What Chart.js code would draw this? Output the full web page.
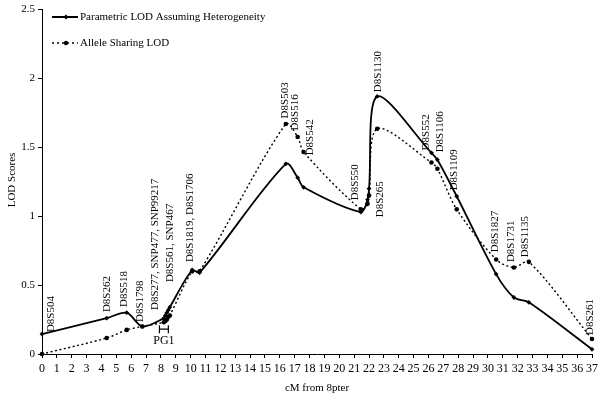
<!DOCTYPE html>
<html>
<head>
<meta charset="utf-8">
<script src="https://cdn.jsdelivr.net/npm/chart.js@4"></script>
<style>
  html, body { margin: 0; padding: 0; background: #fff; }
  #wrap { width: 602px; height: 400px; }
</style>
</head>
<body>
<div id="wrap"><canvas id="lod" width="602" height="400"></canvas></div>
<script>
// marker positions in cM from 8pter
const positions = [0, 4.35, 5.7, 6.75, 8.2, 8.3, 8.4, 8.5, 8.6, 10.1, 10.6, 16.4, 17.2, 17.6,
  21.45, 21.9, 22.0, 22.55, 26.2, 26.6, 27.9, 30.55, 31.75, 32.75, 37];
const parametricLod = [0.145, 0.26, 0.30, 0.20, 0.26, 0.28, 0.30, 0.32, 0.34, 0.61, 0.59, 1.38, 1.28, 1.21,
  1.03, 1.12, 1.20, 1.87, 1.46, 1.41, 1.145, 0.58, 0.41, 0.375, 0.034];
const sharingLod = [0, 0.116, 0.175, 0.20, 0.23, 0.24, 0.25, 0.27, 0.28, 0.60, 0.60, 1.67, 1.575, 1.466,
  1.05, 1.09, 1.15, 1.635, 1.39, 1.345, 1.05, 0.686, 0.628, 0.669, 0.109];

// marker name labels: [text, cM, LOD at bottom of the rotated text]
const markerLabels = [
  ['D8S504', 0.6, 0.159],
  ['D8S262', 4.36, 0.304],
  ['D8S518', 5.5, 0.341],
  ['D8S1798', 6.57, 0.232],
  ['D8S277, SNP477, SNP99217', 7.64, 0.319],
  ['D8S561, SNP467', 8.65, 0.522],
  ['D8S1819, D8S1706', 9.99, 0.667],
  ['D8S503', 16.35, 1.71],
  ['D8S516', 17.02, 1.623],
  ['D8S542', 18.03, 1.442],
  ['D8S550', 21.05, 1.116],
  ['D8S265', 22.72, 0.993],
  ['D8S1130', 22.59, 1.90],
  ['D8S552', 25.87, 1.478],
  ['D8S1106', 26.81, 1.464],
  ['D8S1109', 27.75, 1.188],
  ['D8S1827', 30.5, 0.739],
  ['D8S1731', 31.57, 0.667],
  ['D8S1135', 32.51, 0.703],
  ['D8S261', 36.86, 0.138]
];
const pg1 = { from: 7.9, to: 8.5, lod: 0.18, text: 'PG1' };

const seriesNames = ['Parametric LOD Assuming Heterogeneity', 'Allele Sharing LOD'];
const serif = "'Liberation Serif', 'Times New Roman', serif";

const annotations = {
  id: 'annotations',
  afterDatasetsDraw(chart) {
    const ctx = chart.ctx;
    const xs = chart.scales.x, ys = chart.scales.y;
    ctx.save();
    ctx.fillStyle = '#000';
    ctx.strokeStyle = '#000';
    ctx.font = '11px ' + serif;

    // rotated marker names
    markerLabels.forEach(([txt, cm, lod]) => {
      ctx.save();
      ctx.translate(xs.getPixelForValue(cm), ys.getPixelForValue(lod));
      ctx.rotate(-Math.PI / 2);
      ctx.textAlign = 'left';
      ctx.textBaseline = 'middle';
      ctx.fillText(txt, 0, 0);
      ctx.restore();
    });

    // PG1 interval bar
    const x1 = xs.getPixelForValue(pg1.from), x2 = xs.getPixelForValue(pg1.to);
    const yb = ys.getPixelForValue(pg1.lod);
    ctx.lineWidth = 1.2;
    ctx.beginPath();
    ctx.moveTo(x1, yb); ctx.lineTo(x2, yb);
    ctx.moveTo(x1, yb - 4); ctx.lineTo(x1, yb + 4);
    ctx.moveTo(x2, yb - 4); ctx.lineTo(x2, yb + 4);
    ctx.stroke();
    ctx.font = '12px ' + serif;
    ctx.textAlign = 'center';
    ctx.textBaseline = 'middle';
    ctx.fillText(pg1.text, (x1 + x2) / 2, yb + 12);

    // axis titles
    ctx.font = '11px ' + serif;
    ctx.fillText('cM from 8pter', (chart.chartArea.left + chart.chartArea.right) / 2, 388);
    ctx.save();
    ctx.translate(12, 180);
    ctx.rotate(-Math.PI / 2);
    ctx.fillText('LOD Scores', 0, 0);
    ctx.restore();

    // legend
    ctx.font = '11px ' + serif;
    ctx.textAlign = 'left';
    ctx.lineWidth = 2;
    ctx.setLineDash([]);
    ctx.beginPath(); ctx.moveTo(52, 17); ctx.lineTo(78, 17); ctx.stroke();
    ctx.beginPath();
    ctx.moveTo(66, 14.5); ctx.lineTo(68.5, 17); ctx.lineTo(66, 19.5); ctx.lineTo(63.5, 17);
    ctx.closePath(); ctx.fill();
    ctx.fillText(seriesNames[0], 80, 17);

    ctx.lineWidth = 1.5;
    ctx.setLineDash([2, 3]);
    ctx.beginPath(); ctx.moveTo(52, 43); ctx.lineTo(78, 43); ctx.stroke();
    ctx.setLineDash([]);
    ctx.beginPath(); ctx.arc(66, 43, 2.2, 0, Math.PI * 2); ctx.fill();
    ctx.fillText(seriesNames[1], 80, 43);
    ctx.restore();
  }
};

new Chart(document.getElementById('lod'), {
  type: 'line',
  data: {
    datasets: [
      {
        label: seriesNames[0],
        data: positions.map((x, i) => ({ x, y: parametricLod[i] })),
        borderColor: '#000',
        backgroundColor: '#000',
        borderWidth: 1.8,
        tension: 0.3,
        pointStyle: 'rectRot',
        pointRadius: 2.4,
        pointBorderWidth: 0,
        clip: false
      },
      {
        label: seriesNames[1],
        data: positions.map((x, i) => ({ x, y: sharingLod[i] })),
        borderColor: '#000',
        backgroundColor: '#000',
        borderWidth: 1.4,
        borderDash: [2, 2.5],
        tension: 0.3,
        pointStyle: 'circle',
        pointRadius: 2.3,
        pointBorderWidth: 0,
        clip: false
      }
    ]
  },
  options: {
    responsive: false,
    animation: false,
    events: [],
    layout: { padding: { top: 8, right: 8, left: 0, bottom: 0 } },
    plugins: { legend: { display: false }, tooltip: { enabled: false } },
    scales: {
      x: {
        type: 'linear',
        min: 0,
        max: 37,
        afterFit(scale) { scale.height = 46; },
        ticks: { stepSize: 1, autoSkip: false, maxRotation: 0, padding: 4, color: '#000',
          font: { family: serif, size: 12 } },
        grid: { drawOnChartArea: false, tickLength: 4, color: '#000' },
        border: { color: '#000', width: 1 }
      },
      y: {
        min: 0,
        max: 2.5,
        afterFit(scale) { scale.width = 42; },
        ticks: { stepSize: 0.5, padding: 3, color: '#000', font: { family: serif, size: 11 },
          callback: (v) => String(v) },
        grid: { drawOnChartArea: false, tickLength: 4, color: '#000' },
        border: { color: '#000', width: 1 }
      }
    }
  },
  plugins: [annotations]
});
</script>
</body>
</html>
